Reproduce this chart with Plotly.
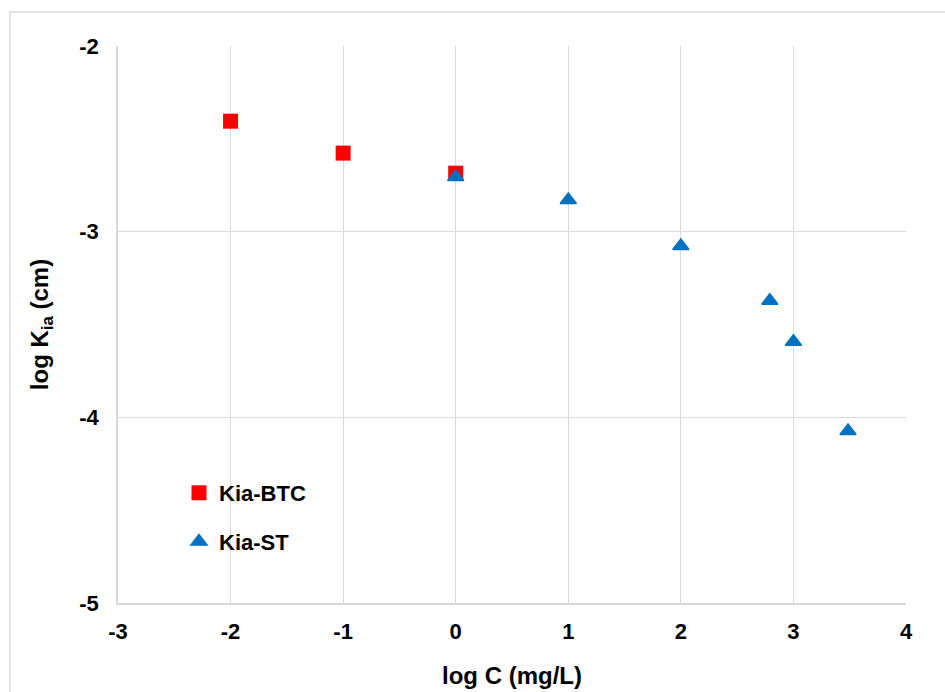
import plotly.graph_objects as go

btc_x = [-2, -1, 0]
btc_y = [-2.405, -2.577, -2.685]
st_x = [0, 1, 2, 2.79, 3.0, 3.485]
st_y = [-2.706, -2.829, -3.077, -3.372, -3.593, -4.074]

x_ticks = [-3, -2, -1, 0, 1, 2, 3, 4]
y_ticks = [-5, -4, -3, -2]

W, H = 945, 692
L, R, T, B = 118, 906, 46, 603

fig = go.Figure()
fig.add_trace(go.Scatter(x=btc_x, y=btc_y, mode="markers", name="Kia-BTC",
                         legendgroup="a",
                         marker=dict(symbol="square", size=15, color="#ff0000")))
fig.add_trace(go.Scatter(x=st_x, y=st_y, mode="markers", name="Kia-ST",
                         legendgroup="b",
                         marker=dict(symbol="triangle-up", size=14, color="#0070c0",
                                     line=dict(color="#0070c0", width=1.5))))

fam = "Liberation Sans, Arial, sans-serif"
font = dict(family=fam, size=22, color="#000000")

def px(x):
    return (x - L) / (R - L)

def py(y):
    return (B - y) / (B - T)

fig.add_shape(type="rect", xref="paper", yref="paper",
              x0=px(10), x1=px(960), y0=py(12), y1=py(720),
              line=dict(color="#d9d9d9", width=1.5), layer="below")

fig.update_layout(
    width=W, height=H,
    margin=dict(l=L, r=W - R, t=T, b=H - B),
    paper_bgcolor="white", plot_bgcolor="white",
    font=font,
    showlegend=True,
    legend=dict(x=px(179), y=py(472), xanchor="left", yanchor="top",
                bgcolor="rgba(0,0,0,0)", font=dict(family=fam, size=22, color="#000", weight="bold"),
                traceorder="grouped", tracegroupgap=17, itemwidth=30),
    xaxis=dict(range=[-3, 4], tickvals=x_ticks, ticktext=[str(v) for v in x_ticks],
               automargin=False,
               showgrid=True, gridcolor="#d9d9d9", gridwidth=1,
               showline=True, linecolor="#d9d9d9", linewidth=1.5,
               zeroline=False, ticks="outside", ticklen=8, tickcolor="rgba(0,0,0,0)",
               tickfont=dict(family=fam, size=22, color="#000", weight="bold"),
               title=dict(text="<b>log C (mg/L)</b>", standoff=24,
                          font=dict(family=fam, size=24, color="#000"))),
    yaxis=dict(range=[-5, -2], tickvals=y_ticks, ticktext=[str(v) for v in y_ticks],
               automargin=False,
               showgrid=True, gridcolor="#d9d9d9", gridwidth=1,
               showline=True, linecolor="#d9d9d9", linewidth=1.5,
               zeroline=False, ticks="outside", ticklen=13, tickcolor="rgba(0,0,0,0)",
               tickfont=dict(family=fam, size=22, color="#000", weight="bold"),
               title=dict(text="<b>log K<sub>ia</sub> (cm)</b>", standoff=24,
                          font=dict(family=fam, size=24, color="#000"))),
)

fig.write_html("out.html")
